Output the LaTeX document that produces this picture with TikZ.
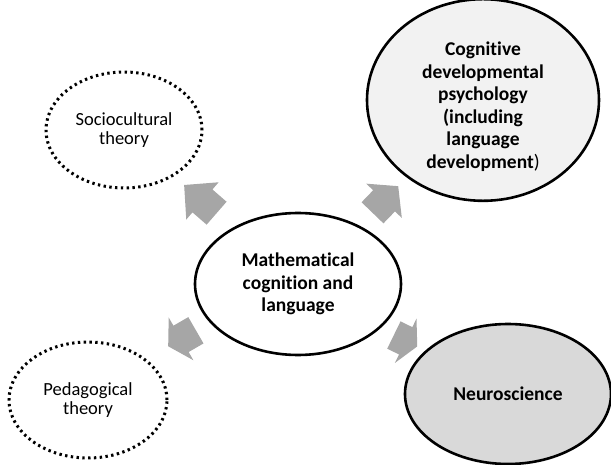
\documentclass[tikz,border=0pt]{standalone}
\usepackage{fontspec}
\setmainfont{Carlito}[Ligatures=NoCommon]
\usetikzlibrary{shapes.geometric,shapes.arrows}

\begin{document}
\begin{tikzpicture}[x=1pt, y=-1pt,
        field/.style={ellipse, draw=black, line width=2.6pt, inner sep=0pt, align=center,
            font=\fontsize{19.5}{22.5}\selectfont\bfseries},
        theory/.style={ellipse, draw=black, line width=3pt, dash pattern=on 2.4pt off 3.4pt,
            inner sep=0pt, align=center, font=\fontsize{18.5}{19}\selectfont},
        outarrow/.style={single arrow, fill=black!35, draw=none, inner xsep=0pt, inner ysep=15pt,
            single arrow head extend=9.5pt}]

        \useasboundingbox (0,0) rectangle (611,465);

        \node[theory, minimum width=156pt, minimum height=116pt] (socio) at (124,130) {Sociocultural\\theory};

        \node[field, fill=black!5, minimum width=232pt, minimum height=194pt] (cogdev) at (483,100)
            {\rule{0pt}{27pt}Cognitive\\developmental\\psychology\\(including\\language\\development\mdseries)};

        \node[field, fill=white, minimum width=206pt, minimum height=142pt] (maths) at (298,284)
            {Mathematical\\cognition and\\language};

        \node[theory, minimum width=158pt, minimum height=116pt] (pedag) at (88,400) {Pedagogical\\theory};

        \node[field, fill=black!15, minimum width=206pt, minimum height=140pt] (neuro) at (508,394) {Neuroscience};

        \node[outarrow, rotate=139, minimum height=43pt, single arrow tip angle=91] (toSocio) at (206,204) {};
        \node[outarrow, rotate=46, minimum height=37pt, single arrow tip angle=101] (toCogdev) at (381,204) {};
        \node[outarrow, rotate=210, minimum height=32pt, single arrow tip angle=118] (toPedag) at (186,336) {};
        \node[outarrow, rotate=-26, minimum height=26pt, single arrow tip angle=125] (toNeuro) at (402,339) {};
    \end{tikzpicture}
\end{document}
